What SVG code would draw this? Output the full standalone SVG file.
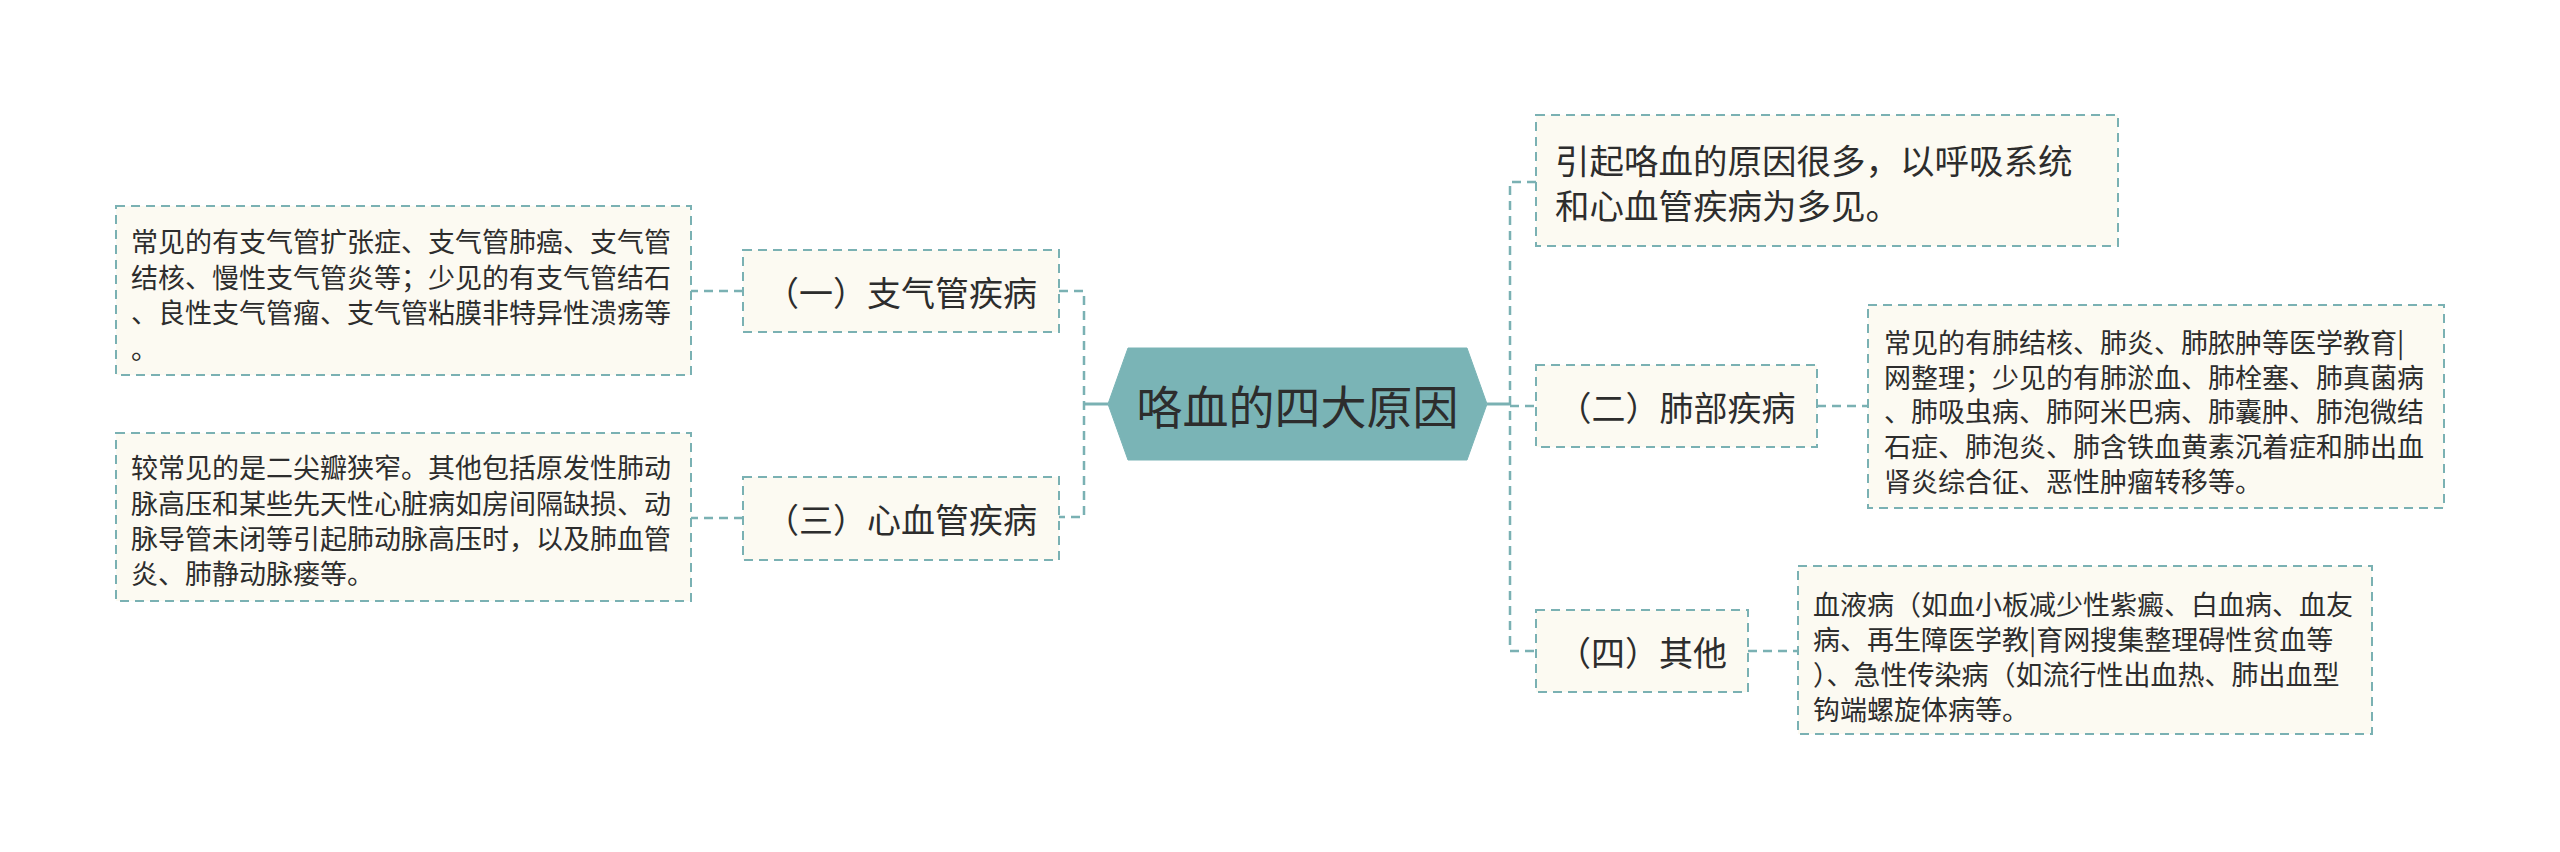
<svg xmlns="http://www.w3.org/2000/svg" width="2560" height="852" viewBox="0 0 2560 852">
<style>
.box{fill:#fcfaf2;stroke:#7ab1b3;stroke-width:2;stroke-dasharray:9 6;}
.t{font-family:"Noto Sans CJK SC","Noto Sans",sans-serif;fill:#2d2d2d;dominant-baseline:central;}
.d{font-size:27px;}
.l1{font-size:34px;text-anchor:middle;}
.c{fill:none;stroke:#7ab1b3;stroke-width:2.5;stroke-dasharray:9 6;}
.s{fill:none;stroke:#7ab1b3;stroke-width:3;}
</style>
<rect width="2560" height="852" fill="#ffffff"/>
<g id="connectors">
<path class="s" d="M1108 404 H1084"/>
<path class="c" d="M1059 291 H1084 V517 H1059"/>
<path class="c" d="M743 291 H691"/>
<path class="c" d="M743 518 H691"/>
<path class="s" d="M1487 404 H1510"/>
<path class="c" d="M1536 182 H1510 V651 H1536"/>
<path class="c" d="M1510 406 H1536"/>
<path class="c" d="M1817 406 H1868"/>
<path class="c" d="M1748 651 H1798"/>
</g>
<g id="center">
<polygon points="1108,404 1128,348 1467,348 1487,404 1467,460 1128,460" fill="#7ab4b6" stroke="#7ab4b6" stroke-width="1"/>
<text class="t" x="1297.5" y="404" font-size="46" text-anchor="middle">咯血的四大原因</text>
</g>
<g id="n1">
<rect class="box" x="743" y="250" width="316" height="82"/>
<text class="t l1" x="901" y="291">（一）支气管疾病</text>
</g>
<g id="n1d">
<rect class="box" x="116" y="206" width="575" height="169"/>
<text class="t d" x="131" y="240">常见的有支气管扩张症、支气管肺癌、支气管</text>
<text class="t d" x="131" y="276">结核、慢性支气管炎等；少见的有支气管结石</text>
<text class="t d" x="131" y="311">、良性支气管瘤、支气管粘膜非特异性溃疡等</text>
<text class="t d" x="131" y="347">。</text>
</g>
<g id="n3">
<rect class="box" x="743" y="477" width="316" height="83"/>
<text class="t l1" x="901" y="518">（三）心血管疾病</text>
</g>
<g id="n3d">
<rect class="box" x="116" y="433" width="575" height="168"/>
<text class="t d" x="131" y="466">较常见的是二尖瓣狭窄。其他包括原发性肺动</text>
<text class="t d" x="131" y="502">脉高压和某些先天性心脏病如房间隔缺损、动</text>
<text class="t d" x="131" y="537">脉导管未闭等引起肺动脉高压时，以及肺血管</text>
<text class="t d" x="131" y="572">炎、肺静动脉瘘等。</text>
</g>
<g id="intro">
<rect class="box" x="1536" y="115" width="582" height="131"/>
<text class="t" x="1555" y="158.5" font-size="34.5">引起咯血的原因很多，以呼吸系统</text>
<text class="t" x="1555" y="204" font-size="34.5">和心血管疾病为多见。</text>
</g>
<g id="n2">
<rect class="box" x="1536" y="365" width="281" height="82"/>
<text class="t l1" x="1676.5" y="406">（二）肺部疾病</text>
</g>
<g id="n2d">
<rect class="box" x="1868" y="305" width="576" height="203"/>
<text class="t d" x="1884" y="341">常见的有肺结核、肺炎、肺脓肿等医学教育|</text>
<text class="t d" x="1884" y="376">网整理；少见的有肺淤血、肺栓塞、肺真菌病</text>
<text class="t d" x="1884" y="410">、肺吸虫病、肺阿米巴病、肺囊肿、肺泡微结</text>
<text class="t d" x="1884" y="445">石症、肺泡炎、肺含铁血黄素沉着症和肺出血</text>
<text class="t d" x="1884" y="480">肾炎综合征、恶性肿瘤转移等。</text>
</g>
<g id="n4">
<rect class="box" x="1536" y="610" width="212" height="82"/>
<text class="t l1" x="1642" y="651">（四）其他</text>
</g>
<g id="n4d">
<rect class="box" x="1798" y="566" width="574" height="168"/>
<text class="t d" x="1813" y="603">血液病（如血小板减少性紫癜、白血病、血友</text>
<text class="t d" x="1813" y="638">病、再生障医学教|育网搜集整理碍性贫血等</text>
<text class="t d" x="1813" y="673">）、急性传染病（如流行性出血热、肺出血型</text>
<text class="t d" x="1813" y="708">钩端螺旋体病等。</text>
</g>
</svg>
